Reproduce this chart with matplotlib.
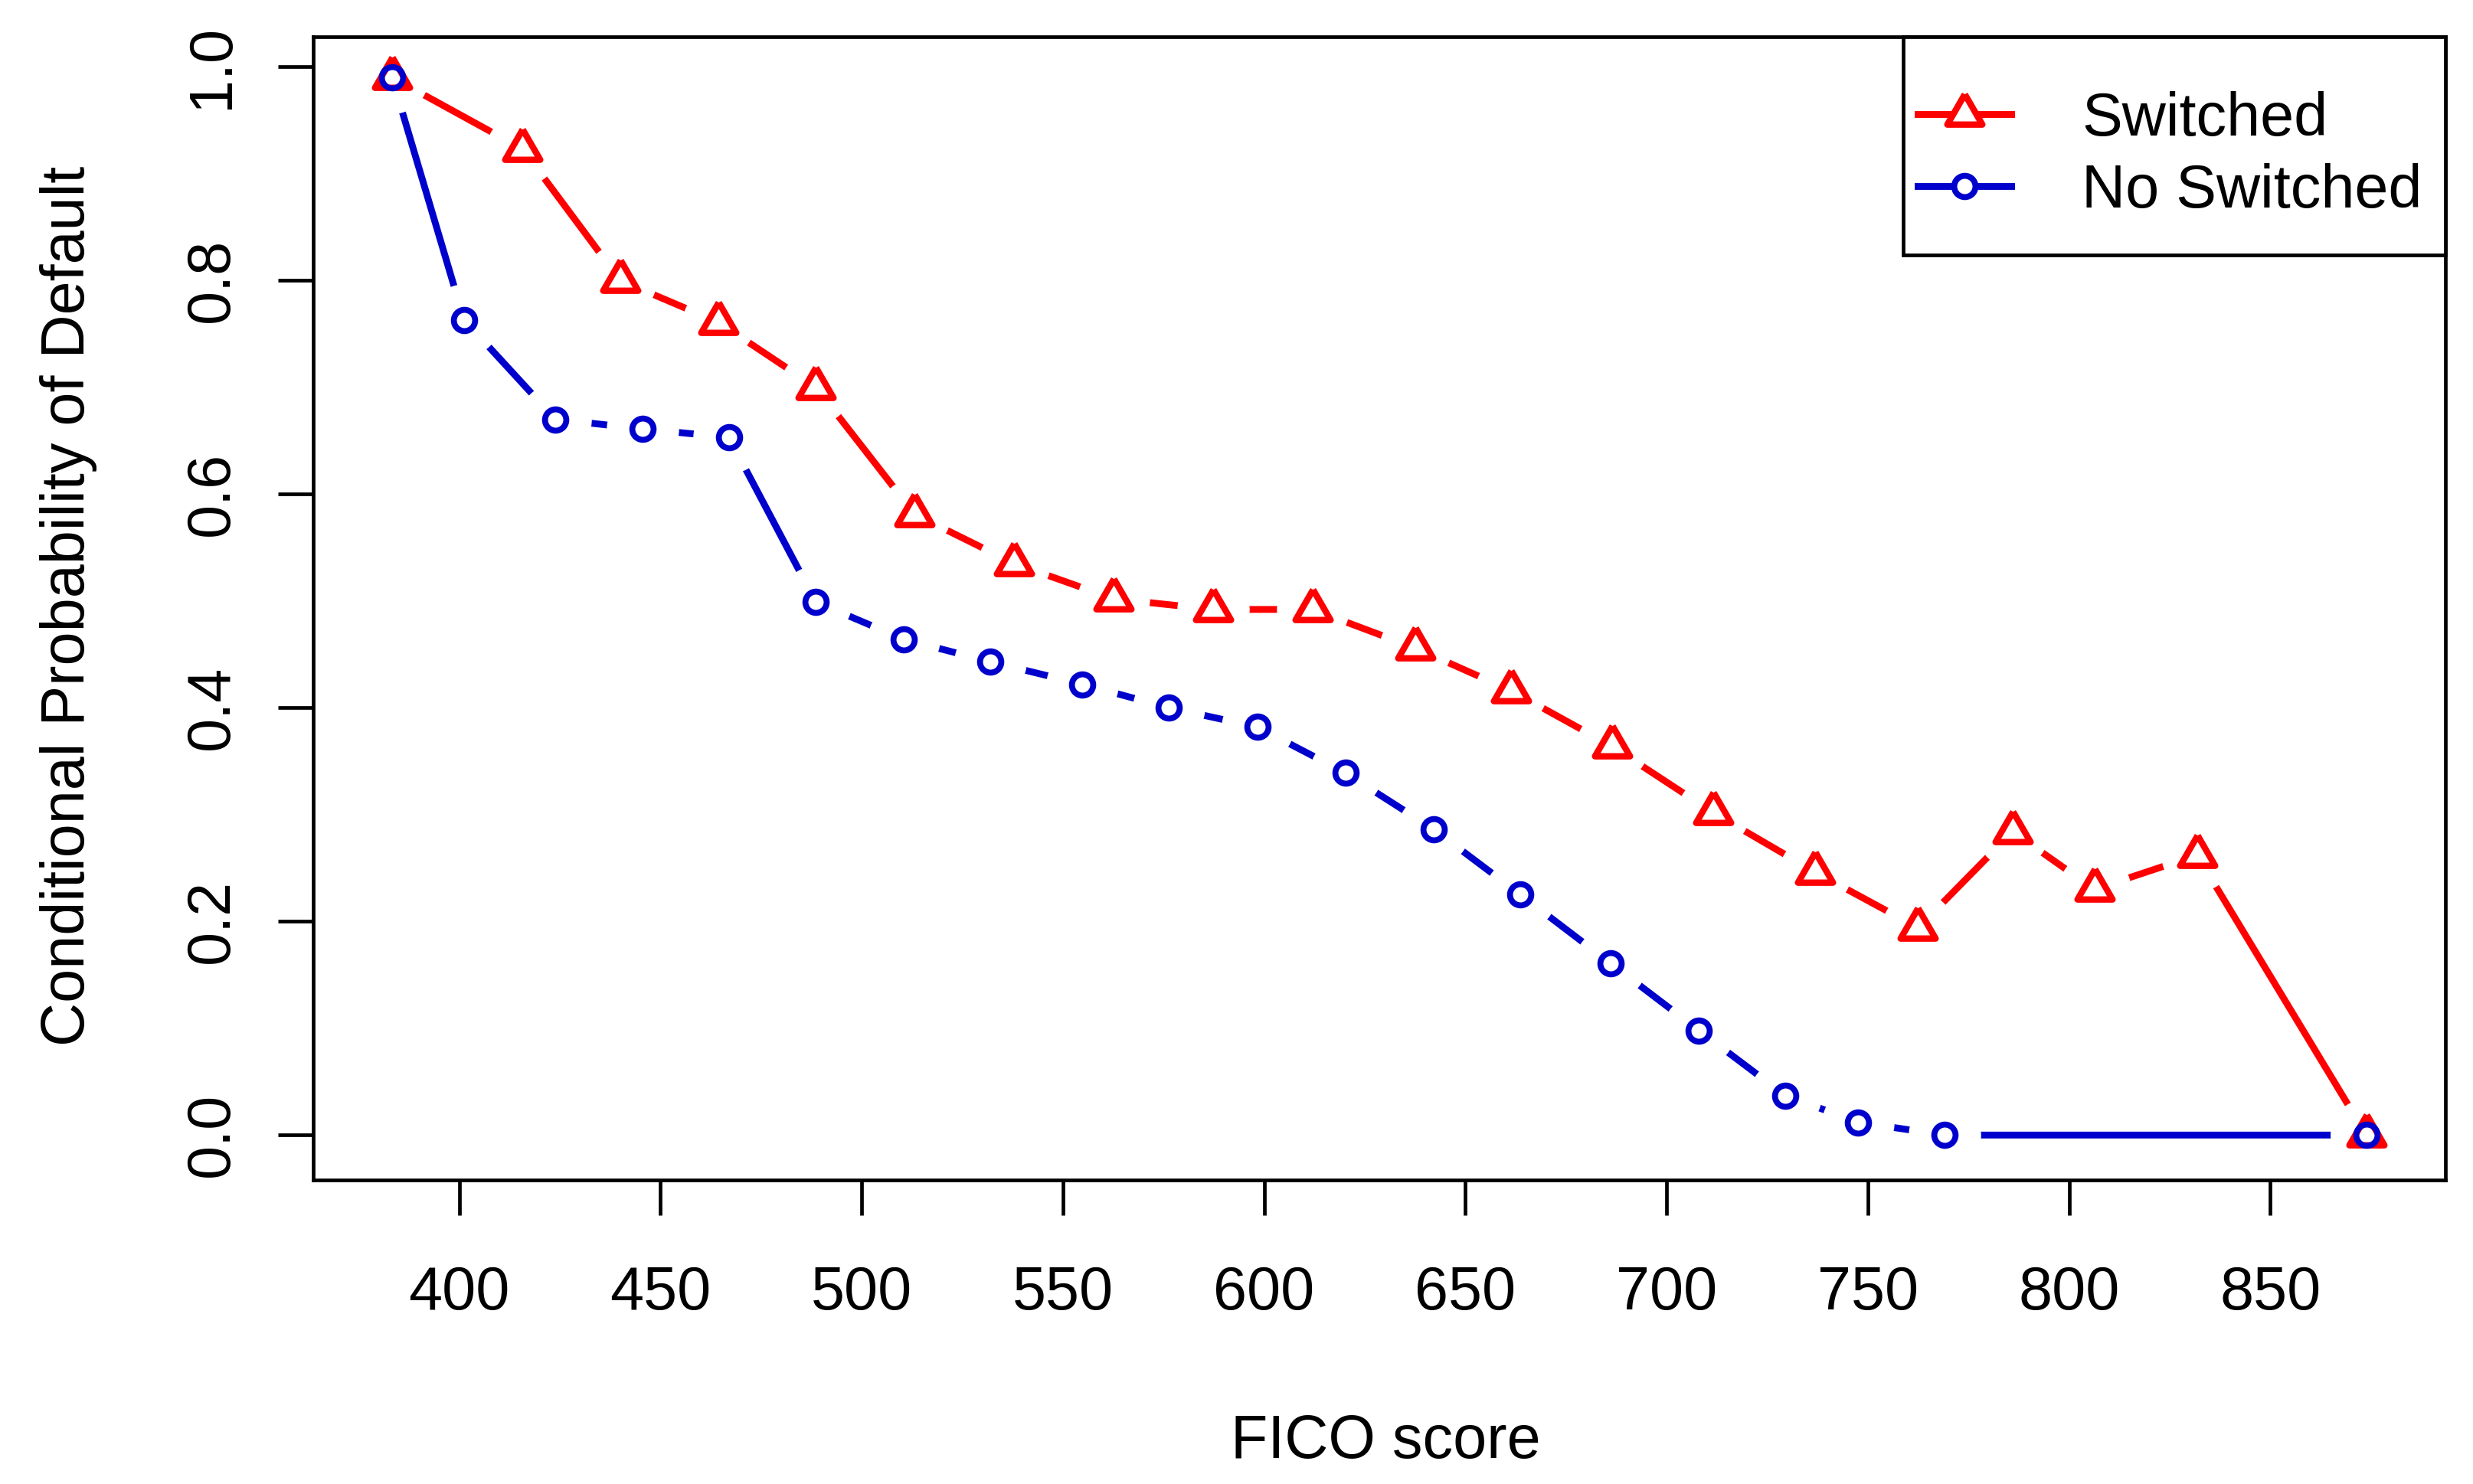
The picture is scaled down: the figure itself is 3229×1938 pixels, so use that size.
import matplotlib.pyplot as plt
from matplotlib.lines import Line2D
from matplotlib.patches import Rectangle

plt.rcParams['font.family'] = ['Liberation Sans', 'DejaVu Sans']

# values
fico_switched = [383.3, 415.7, 440.0, 464.3, 488.6, 513.2, 537.9, 562.6, 587.3, 612.0,
                 637.5, 661.4, 686.4, 711.5, 737.0, 762.5, 786.0, 806.3, 831.8, 873.9]
pd_switched = [0.99, 0.923, 0.80, 0.761, 0.70, 0.581, 0.535, 0.502, 0.492, 0.492,
               0.456, 0.416, 0.364, 0.302, 0.246, 0.194, 0.284, 0.230, 0.262, 0.0]

fico_noswitch = [383.3, 401.2, 423.9, 445.5, 467.0, 488.6, 510.5, 532.0, 554.8, 576.3,
                 598.3, 620.2, 642.2, 663.7, 686.0, 708.0, 729.5, 747.6, 769.0, 873.9]
pd_noswitch = [0.99, 0.763, 0.670, 0.661, 0.653, 0.499, 0.464, 0.443, 0.422, 0.40,
               0.382, 0.339, 0.286, 0.225, 0.161, 0.098, 0.037, 0.012, 0.0, 0.0]

labels = ['Switched', 'No Switched']
xticks = [400, 450, 500, 550, 600, 650, 700, 750, 800, 850]
yticks = [0.0, 0.2, 0.4, 0.6, 0.8, 1.0]

red = '#ff0000'
blue = '#0000cc'
fs = 28.5
# triangle centred on its centroid, like R's pch=2
tri = [(0, 1), (-0.866, -0.5), (0.866, -0.5), (0, 1)]

fig = plt.figure(figsize=(16.15, 9.69), dpi=200)
ax = fig.add_axes([0.1266, 0.2049, 0.9885 - 0.1266, 0.9752 - 0.2049])

# type="b": lines, then blank gaps round every point, then the symbols
ax.plot(fico_switched, pd_switched, color=red, lw=3.2, zorder=2)
ax.plot(fico_noswitch, pd_noswitch, color=blue, lw=3.2, zorder=2)
ax.plot(fico_switched, pd_switched, ls='none', marker='o', ms=34, mfc='white', mew=0, zorder=3)
ax.plot(fico_noswitch, pd_noswitch, ls='none', marker='o', ms=34, mfc='white', mew=0, zorder=3)
ax.plot(fico_switched, pd_switched, ls='none', marker=tri, ms=19, mfc='none', mec=red, mew=3.0, zorder=4)
ax.plot(fico_noswitch, pd_noswitch, ls='none', marker='o', ms=10, mfc='none', mec=blue, mew=2.8, zorder=5)

ax.set_xlim(363.7, 893.5)
ax.set_ylim(-0.042, 1.028)
ax.set_xticks(xticks)
ax.set_yticks(yticks)
ax.set_yticklabels(['%.1f' % v for v in yticks])
ax.tick_params(axis='both', length=16.5, width=1.7, labelsize=fs, direction='out')
ax.tick_params(axis='x', pad=23.4)
ax.tick_params(axis='y', pad=17.3)
for t in ax.get_yticklabels():
    t.set_rotation(90)
    t.set_va('center')
for s in ax.spines.values():
    s.set_linewidth(1.7)

ax.set_xlabel('FICO score', fontsize=fs)
ax.xaxis.set_label_coords(0.503, -0.2045)
ax.set_ylabel('Conditional Probability of Default', fontsize=fs)
ax.yaxis.set_label_coords(-0.1013, 0.502)

# legend box as in R's "topright" legend, drawn as its own frame
ax.add_patch(Rectangle((0.7457, 0.809), 1 - 0.7457, 1 - 0.809, transform=ax.transAxes,
                       facecolor='white', edgecolor='black', lw=1.7, clip_on=False, zorder=6))
handles = [Line2D([], [], color=red, lw=3.2, marker=tri, ms=19, mfc='white', mec=red, mew=3.0),
           Line2D([], [], color=blue, lw=3.2, marker='o', ms=10, mfc='white', mec=blue, mew=2.8)]
leg = ax.legend(handles, labels, loc='center left', bbox_to_anchor=(0.7527, 0.896),
                borderaxespad=0, borderpad=0, fontsize=fs, frameon=False,
                handlelength=1.54, handletextpad=1.16, labelspacing=0.235)
leg.set_zorder(7)

plt.savefig('out.png', dpi=200)
